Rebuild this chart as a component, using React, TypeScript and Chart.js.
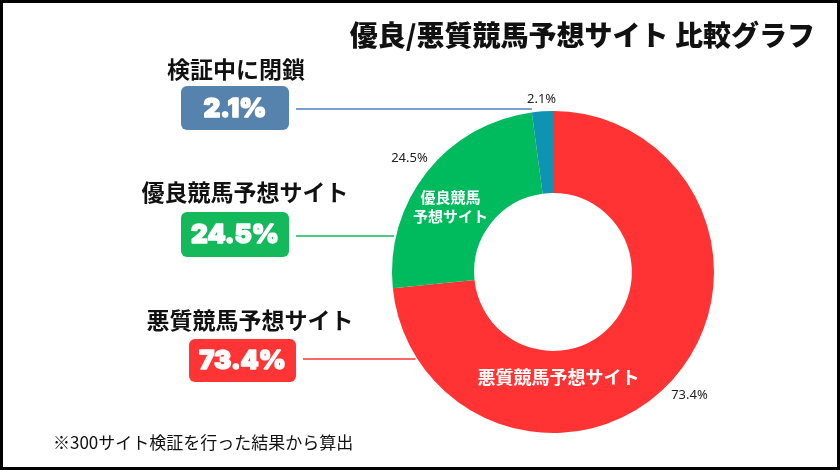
import React, { useEffect, useRef } from 'react';
import { Chart, registerables } from 'chart.js';

Chart.register(...registerables);

// ---- data ----
const categories = ['悪質競馬予想サイト', '優良競馬予想サイト', '検証中に閉鎖'];
const values = [73.4, 24.5, 2.1];
const sliceLabels = [['悪質競馬予想サイト'], ['優良競馬', '予想サイト'], []];
const percentLabels = ['73.4%', '24.5%', '2.1%'];
const sliceColors = ['#FF3333', '#00BA5E', '#0F93B2'];
const boxColors = ['#FF3434', '#14B95B', '#5683AD'];
const lineColors = ['#FF3333', '#14B95B', '#4A7EBF'];
const titleText = '優良/悪質競馬予想サイト 比較グラフ';
const footnote = '※300サイト検証を行った結果から算出';

// ---- layout / style (positions only) ----
const annotLayout = [
  { labelX: 250, labelY: 320, box: { x: 189, y: 339, w: 107, h: 43 }, lineY: 359 },
  { labelX: 245, labelY: 192, box: { x: 181, y: 212, w: 108, h: 45 }, lineY: 236 },
  { labelX: 236, labelY: 69, box: { x: 181, y: 86, w: 108, h: 44 }, lineY: 109 },
];
const inLabelAngleFrac = [0.67, 0.435, 0.5];
const inLabelRadFrac = [0.32, 0.52, 0.5];
const outLabelOffset = [23, 22, 12];

const annotPlugin = {
  id: 'annot',
  afterDatasetsDraw(chart: any) {
    const ctx: CanvasRenderingContext2D = chart.ctx;
    const meta = chart.getDatasetMeta(0);
    ctx.save();
    ctx.textBaseline = 'middle';

    // title
    ctx.fillStyle = '#111';
    ctx.textAlign = 'right';
    ctx.font = '900 28px "Noto Sans CJK JP"';
    ctx.fillText(titleText, 815, 35);

    // footnote
    ctx.textAlign = 'left';
    ctx.font = '400 17px "Noto Sans CJK JP"';
    ctx.fillStyle = '#111';
    ctx.fillText(footnote, 53, 443);

    meta.data.forEach((arc: any, i: number) => {
      const p = arc.getProps(['x', 'y', 'startAngle', 'endAngle', 'innerRadius', 'outerRadius'], true);
      const { x, y, startAngle, endAngle, innerRadius, outerRadius } = p;

      // inner slice label
      const lines = sliceLabels[i];
      if (lines.length) {
        const a = startAngle + (endAngle - startAngle) * inLabelAngleFrac[i];
        const r = innerRadius + (outerRadius - innerRadius) * inLabelRadFrac[i];
        const lx = x + r * Math.cos(a);
        const ly = y + r * Math.sin(a);
        ctx.fillStyle = '#FFFFFF';
        ctx.textAlign = 'center';
        const fs = lines.length > 1 ? 15 : 18;
        ctx.font = `700 ${fs}px "Noto Sans CJK JP"`;
        const lh = fs + 4;
        lines.forEach((t, k) => {
          ctx.fillText(t, lx, ly + (k - (lines.length - 1) / 2) * lh);
        });
      }

      // outer percent label
      const mid = (startAngle + endAngle) / 2;
      const ro = outerRadius + outLabelOffset[i];
      ctx.fillStyle = '#222';
      ctx.textAlign = 'center';
      ctx.font = '400 13px "Noto Sans", "Noto Sans CJK JP"';
      ctx.fillText(percentLabels[i], x + ro * Math.cos(mid), y + ro * Math.sin(mid));

      // left annotation: category label
      const L = annotLayout[i];
      ctx.fillStyle = '#111';
      ctx.font = '700 23px "Noto Sans CJK JP"';
      ctx.fillText(categories[i], L.labelX, L.labelY);

      // box
      ctx.fillStyle = boxColors[i];
      ctx.beginPath();
      (ctx as any).roundRect(L.box.x, L.box.y, L.box.w, L.box.h, 6);
      ctx.fill();
      ctx.fillStyle = '#FFFFFF';
      ctx.strokeStyle = '#FFFFFF';
      ctx.lineWidth = 1.4;
      ctx.lineJoin = 'round';
      ctx.font = '900 26px Inter, Lato, sans-serif';
      const tx = L.box.x + L.box.w / 2;
      const ty = L.box.y + L.box.h / 2 + 1;
      ctx.fillText(percentLabels[i], tx, ty);
      ctx.strokeText(percentLabels[i], tx, ty);

      // connector line
      const dy = L.lineY - y;
      let ex: number;
      if (Math.abs(dy) < outerRadius) {
        ex = x - Math.sqrt(outerRadius * outerRadius - dy * dy) - 2;
      } else {
        ex = x + outerRadius * Math.cos(startAngle);
      }
      ctx.strokeStyle = lineColors[i];
      ctx.lineWidth = 1.5;
      ctx.beginPath();
      ctx.moveTo(L.box.x + L.box.w + 7, L.lineY);
      ctx.lineTo(ex, L.lineY);
      ctx.stroke();
    });
    ctx.restore();
  },
};

export default function App() {
  const ref = useRef<HTMLCanvasElement>(null);
  useEffect(() => {
    document.body.style.margin = '0';
    const chart = new Chart(ref.current as HTMLCanvasElement, {
      type: 'doughnut',
      data: {
        labels: categories,
        datasets: [{ data: values, backgroundColor: sliceColors, borderWidth: 0 }],
      },
      options: {
        responsive: false,
        animation: false,
        cutout: '49%',
        layout: { padding: { top: 111, bottom: 37, left: 392, right: 126 } },
        plugins: {
          legend: { display: false },
          tooltip: { enabled: false },
          title: { display: false },
        },
      } as any,
      plugins: [annotPlugin as any],
    });
    return () => chart.destroy();
  }, []);
  return (
    <div style={{ position: 'relative', width: 840, height: 470, background: '#fff' }}>
      <canvas ref={ref} width={840} height={470} style={{ display: 'block' }} />
      <div
        style={{
          position: 'absolute',
          inset: 0,
          border: '3px solid #000',
          boxSizing: 'border-box',
          pointerEvents: 'none',
        }}
      />
    </div>
  );
}
